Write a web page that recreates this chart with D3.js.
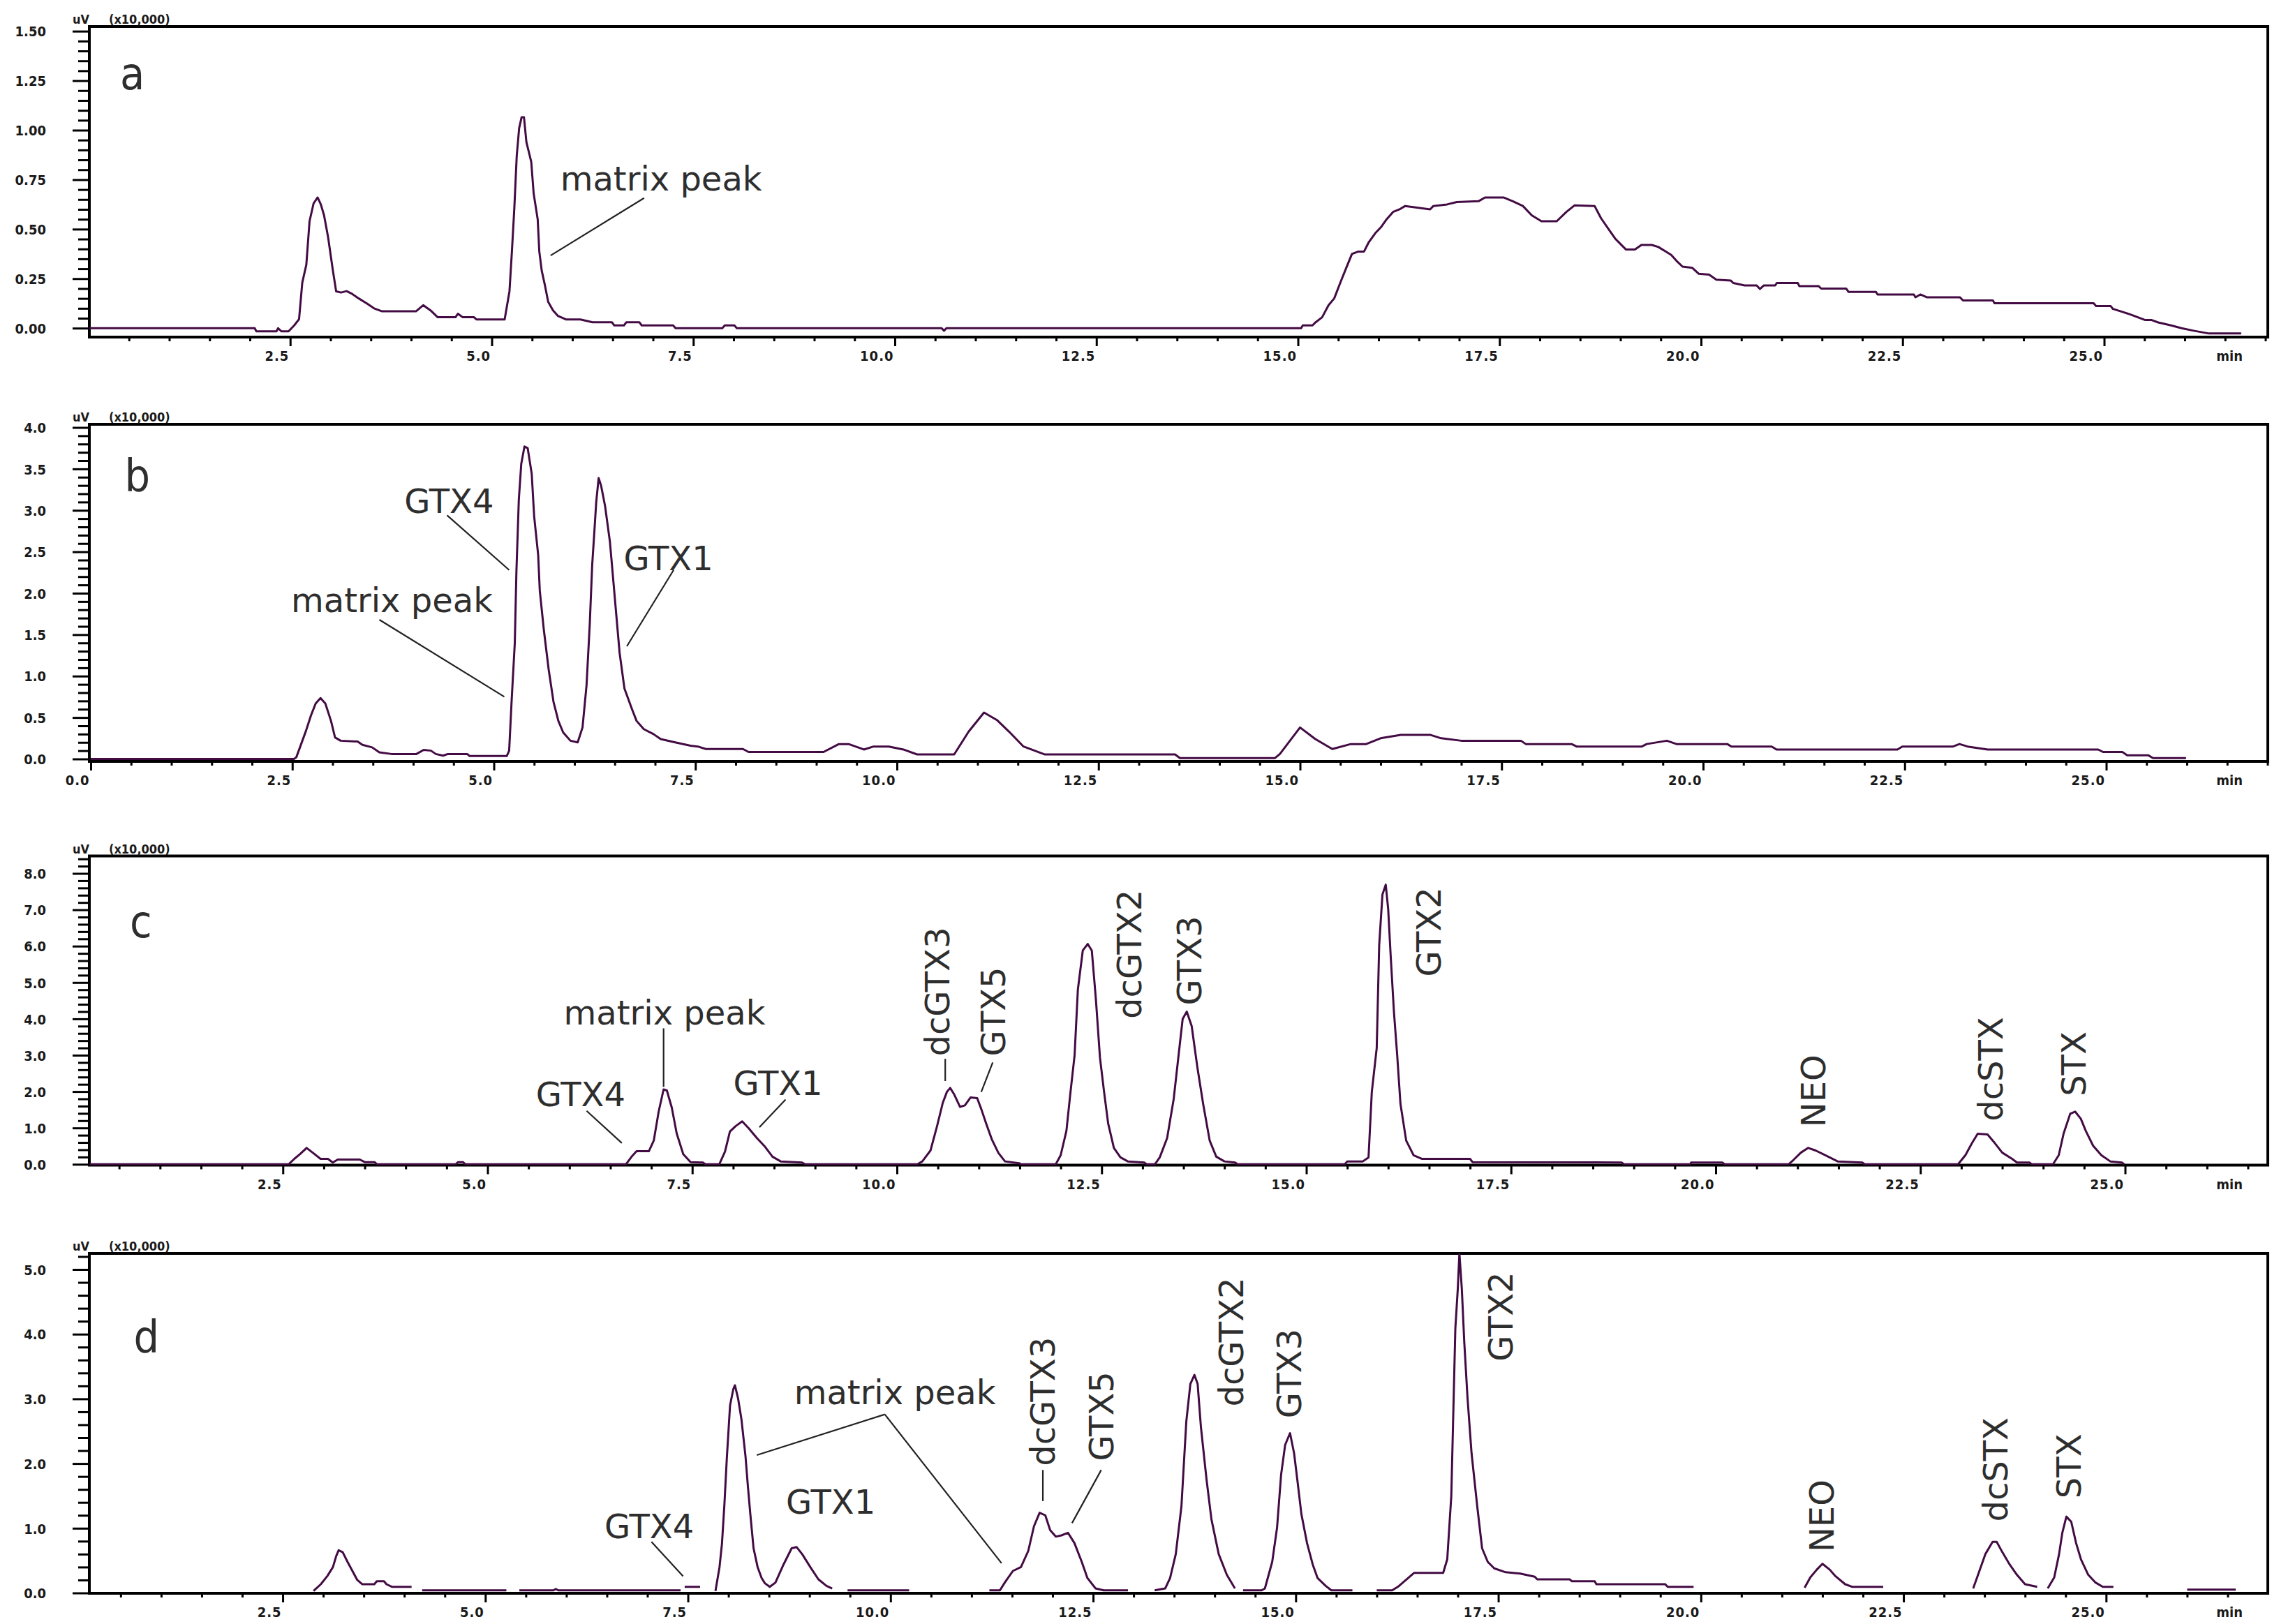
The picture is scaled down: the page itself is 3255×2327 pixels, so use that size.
<!DOCTYPE html>
<html>
<head>
<meta charset="UTF-8">
<script src="https://cdn.jsdelivr.net/npm/d3@7/dist/d3.min.js"></script>
<style>
  body { margin: 0; background: #fff; }
  .tick text, .lab { font-family: 'DejaVu Sans Condensed', 'DejaVu Sans', sans-serif; font-weight: bold; fill: #1a1a1a; }
  .note { font-family: 'DejaVu Sans', sans-serif; fill: #2e2e2e; }
  .letter { font-family: 'DejaVu Sans Condensed', 'DejaVu Sans', sans-serif; fill: #2e2e2e; }
</style>
</head>
<body>
<svg id="chart" width="3255" height="2327"></svg>
<script>
// ---- data: [time (min), signal (x10,000 uV)], null = gap in trace
var traceA = [[0.01,0],[2.06,0],[2.08,-0.016],[2.33,-0.016],[2.35,0],[2.39,-0.016],[2.48,-0.016],[2.55,0.014],[2.61,0.045],[2.65,0.23],[2.70,0.32],[2.74,0.54],[2.79,0.63],[2.84,0.66],[2.88,0.625],[2.92,0.57],[2.97,0.46],[3.03,0.29],[3.07,0.186],[3.13,0.18],[3.20,0.187],[3.26,0.175],[3.35,0.15],[3.45,0.125],[3.54,0.10],[3.64,0.085],[4.06,0.085],[4.15,0.116],[4.24,0.09],[4.33,0.055],[4.55,0.055],[4.58,0.073],[4.64,0.055],[4.78,0.055],[4.81,0.044],[5.16,0.044],[5.22,0.186],[5.25,0.387],[5.28,0.605],[5.31,0.87],[5.34,1.01],[5.37,1.065],[5.40,1.065],[5.43,0.94],[5.49,0.84],[5.52,0.68],[5.57,0.55],[5.59,0.387],[5.62,0.29],[5.66,0.216],[5.70,0.133],[5.76,0.09],[5.82,0.062],[5.92,0.044],[6.10,0.044],[6.25,0.03],[6.49,0.03],[6.52,0.014],[6.64,0.014],[6.67,0.03],[6.83,0.03],[6.86,0.014],[7.25,0.014],[7.28,0],[7.86,0],[7.89,0.014],[8.01,0.014],[8.04,0],[10.58,0],[10.61,-0.013],[10.64,0],[15.04,0],[15.06,0.014],[15.18,0.014],[15.22,0.03],[15.30,0.055],[15.38,0.116],[15.45,0.15],[15.53,0.234],[15.60,0.305],[15.67,0.375],[15.75,0.387],[15.82,0.387],[15.88,0.435],[15.96,0.48],[16.03,0.51],[16.10,0.55],[16.18,0.587],[16.26,0.60],[16.33,0.617],[16.64,0.60],[16.68,0.617],[16.85,0.625],[16.97,0.637],[17.24,0.641],[17.32,0.66],[17.55,0.66],[17.67,0.64],[17.79,0.617],[17.90,0.57],[18.02,0.54],[18.21,0.54],[18.33,0.587],[18.43,0.62],[18.68,0.617],[18.76,0.555],[18.87,0.49],[18.94,0.45],[19.02,0.417],[19.07,0.397],[19.18,0.397],[19.26,0.42],[19.39,0.42],[19.47,0.41],[19.55,0.39],[19.63,0.37],[19.71,0.334],[19.77,0.311],[19.89,0.305],[19.97,0.275],[20.10,0.27],[20.19,0.245],[20.37,0.24],[20.40,0.228],[20.54,0.216],[20.69,0.216],[20.73,0.198],[20.78,0.216],[20.92,0.216],[20.94,0.228],[21.20,0.228],[21.22,0.212],[21.46,0.212],[21.49,0.20],[21.80,0.20],[21.83,0.183],[22.17,0.183],[22.19,0.17],[22.64,0.17],[22.66,0.156],[22.72,0.17],[22.80,0.156],[23.21,0.156],[23.25,0.14],[23.62,0.14],[23.64,0.126],[24.87,0.126],[24.90,0.112],[25.08,0.112],[25.11,0.097],[25.22,0.083],[25.32,0.07],[25.43,0.053],[25.51,0.041],[25.59,0.041],[25.67,0.029],[25.83,0.014],[25.96,0],[26.11,-0.013],[26.30,-0.027],[26.70,-0.027]];

var traceB = [[0,0],[2.52,0],[2.55,0.02],[2.61,0.18],[2.67,0.34],[2.73,0.52],[2.79,0.67],[2.85,0.735],[2.91,0.67],[2.98,0.46],[3.03,0.26],[3.10,0.22],[3.31,0.21],[3.37,0.17],[3.49,0.14],[3.58,0.08],[3.73,0.06],[4.04,0.06],[4.13,0.11],[4.22,0.10],[4.28,0.06],[4.37,0.04],[4.43,0.06],[4.67,0.06],[4.70,0.035],[5.16,0.035],[5.19,0.10],[5.22,0.69],[5.26,1.40],[5.28,2.26],[5.31,3.13],[5.34,3.56],[5.38,3.77],[5.42,3.75],[5.47,3.44],[5.50,2.93],[5.55,2.46],[5.57,2.03],[5.62,1.56],[5.68,1.08],[5.74,0.69],[5.80,0.46],[5.86,0.32],[5.95,0.22],[6.04,0.20],[6.10,0.38],[6.15,0.89],[6.19,1.63],[6.22,2.34],[6.25,2.79],[6.27,3.10],[6.30,3.39],[6.33,3.30],[6.38,3.05],[6.44,2.62],[6.50,1.95],[6.56,1.28],[6.62,0.85],[6.71,0.61],[6.77,0.46],[6.86,0.36],[6.98,0.30],[7.07,0.24],[7.25,0.20],[7.44,0.16],[7.53,0.15],[7.63,0.12],[8.09,0.12],[8.16,0.084],[9.09,0.084],[9.28,0.18],[9.40,0.18],[9.59,0.114],[9.71,0.15],[9.90,0.15],[10.08,0.114],[10.25,0.055],[10.71,0.055],[10.89,0.33],[11.08,0.56],[11.24,0.47],[11.39,0.33],[11.57,0.15],[11.83,0.055],[13.45,0.055],[13.51,0.011],[14.69,0.011],[14.75,0.06],[15.00,0.38],[15.19,0.24],[15.40,0.12],[15.63,0.18],[15.82,0.18],[16.00,0.25],[16.25,0.29],[16.62,0.29],[16.75,0.25],[17.00,0.22],[17.74,0.22],[17.80,0.18],[18.37,0.18],[18.43,0.15],[19.24,0.15],[19.30,0.18],[19.55,0.22],[19.67,0.18],[20.30,0.18],[20.35,0.15],[20.85,0.15],[20.91,0.114],[22.41,0.114],[22.47,0.15],[23.10,0.15],[23.18,0.18],[23.28,0.15],[23.53,0.114],[24.90,0.114],[24.96,0.084],[25.20,0.084],[25.26,0.045],[25.52,0.045],[25.58,0.011],[25.99,0.011]];

var traceC = [[0.14,0],[2.57,0],[2.64,0.15],[2.71,0.28],[2.79,0.45],[2.87,0.31],[2.96,0.15],[3.05,0.15],[3.11,0.05],[3.17,0.13],[3.44,0.13],[3.50,0.06],[3.62,0.06],[3.65,0],[4.61,0],[4.64,0.06],[4.70,0.06],[4.73,0],[6.69,0],[6.76,0.21],[6.82,0.36],[6.97,0.36],[7.03,0.65],[7.09,1.45],[7.15,2.06],[7.19,2.03],[7.25,1.56],[7.31,0.85],[7.39,0.28],[7.48,0.06],[7.63,0.05],[7.66,0],[7.83,0],[7.90,0.35],[7.96,0.90],[8.03,1.05],[8.11,1.18],[8.19,0.99],[8.29,0.72],[8.39,0.48],[8.48,0.21],[8.58,0.08],[8.84,0.05],[8.88,0],[10.25,0],[10.31,0.08],[10.41,0.38],[10.49,1.05],[10.56,1.69],[10.61,1.99],[10.65,2.10],[10.70,1.92],[10.77,1.58],[10.83,1.62],[10.90,1.84],[10.98,1.82],[11.03,1.52],[11.09,1.12],[11.16,0.68],[11.24,0.31],[11.32,0.08],[11.49,0.03],[11.52,0],[11.94,0],[12.00,0.25],[12.07,0.92],[12.12,1.99],[12.17,3.00],[12.21,4.81],[12.27,5.88],[12.33,6.06],[12.38,5.88],[12.43,4.54],[12.48,2.93],[12.53,1.99],[12.58,1.12],[12.65,0.45],[12.73,0.19],[12.82,0.08],[13.02,0.05],[13.05,0],[13.15,0],[13.21,0.19],[13.30,0.72],[13.38,1.79],[13.44,3.00],[13.49,4.00],[13.54,4.20],[13.60,3.80],[13.67,2.66],[13.74,1.66],[13.82,0.65],[13.90,0.21],[14.00,0.08],[14.13,0.05],[14.16,0],[15.47,0],[15.50,0.08],[15.69,0.08],[15.76,0.19],[15.80,1.99],[15.86,3.20],[15.89,6.02],[15.93,7.42],[15.97,7.69],[16.00,7.02],[16.03,5.75],[16.07,4.20],[16.11,3.00],[16.15,1.66],[16.22,0.65],[16.31,0.25],[16.41,0.15],[17.00,0.15],[17.03,0.06],[18.85,0.05],[18.88,0],[19.69,0],[19.70,0.05],[20.08,0.05],[20.11,0],[20.89,0],[20.95,0.12],[21.04,0.32],[21.13,0.45],[21.22,0.38],[21.34,0.25],[21.49,0.08],[21.79,0.05],[21.82,0],[22.96,0],[23.05,0.25],[23.13,0.58],[23.20,0.84],[23.32,0.82],[23.41,0.58],[23.50,0.32],[23.62,0.15],[23.68,0.05],[23.83,0.05],[23.86,0],[24.12,0],[24.19,0.25],[24.25,0.85],[24.33,1.39],[24.39,1.45],[24.46,1.25],[24.52,0.92],[24.61,0.51],[24.71,0.25],[24.82,0.08],[24.96,0.05],[24.99,0]];

var traceD = [[2.88,0.03],[2.97,0.135],[3.05,0.26],[3.12,0.40],[3.16,0.57],[3.19,0.66],[3.24,0.63],[3.30,0.48],[3.36,0.34],[3.42,0.20],[3.48,0.135],[3.63,0.135],[3.66,0.18],[3.75,0.18],[3.78,0.135],[3.85,0.094],[4.09,0.094],null,[4.22,0.04],[5.26,0.04],null,[5.42,0.04],[5.84,0.04],[5.87,0.06],[5.90,0.04],[7.41,0.04],null,[7.46,0.094],[7.65,0.094],null,[7.84,0.03],[7.89,0.40],[7.92,0.76],[7.95,1.36],[7.98,2.08],[8.02,2.90],[8.06,3.15],[8.08,3.21],[8.12,3.00],[8.16,2.69],[8.21,2.12],[8.24,1.65],[8.27,1.22],[8.31,0.69],[8.36,0.40],[8.41,0.23],[8.45,0.15],[8.51,0.094],[8.58,0.16],[8.68,0.44],[8.78,0.69],[8.84,0.71],[8.91,0.60],[9.01,0.40],[9.11,0.21],[9.21,0.11],[9.28,0.07],null,[9.47,0.04],[10.23,0.04],null,[11.22,0.04],[11.35,0.04],[11.41,0.16],[11.51,0.34],[11.61,0.40],[11.70,0.65],[11.77,1.03],[11.84,1.24],[11.91,1.20],[11.97,0.97],[12.04,0.87],[12.11,0.89],[12.19,0.93],[12.27,0.77],[12.36,0.48],[12.43,0.23],[12.53,0.07],[12.63,0.04],[12.93,0.04],null,[13.26,0.04],[13.39,0.07],[13.45,0.23],[13.52,0.60],[13.59,1.34],[13.65,2.65],[13.70,3.23],[13.75,3.37],[13.79,3.23],[13.83,2.57],[13.90,1.75],[13.96,1.14],[14.05,0.60],[14.15,0.28],[14.25,0.07],null,[14.35,0.04],[14.58,0.04],[14.62,0.07],[14.71,0.48],[14.77,1.01],[14.82,1.83],[14.87,2.29],[14.93,2.47],[14.98,2.16],[15.02,1.75],[15.07,1.22],[15.14,0.77],[15.21,0.44],[15.27,0.23],[15.37,0.11],[15.44,0.04],[15.70,0.04],null,[16.00,0.04],[16.19,0.04],[16.26,0.094],[16.46,0.31],[16.82,0.31],[16.87,0.52],[16.92,1.50],[16.97,4.09],[17.00,4.70],[17.02,5.25],[17.05,4.70],[17.08,3.88],[17.12,3.02],[17.17,2.16],[17.24,1.34],[17.30,0.69],[17.37,0.48],[17.45,0.38],[17.59,0.32],[17.77,0.30],[17.95,0.25],[17.98,0.21],[18.38,0.21],[18.41,0.18],[18.69,0.18],[18.71,0.135],[19.56,0.135],[19.59,0.094],[19.91,0.094],null,[21.28,0.08],[21.35,0.24],[21.43,0.36],[21.50,0.45],[21.59,0.36],[21.66,0.26],[21.78,0.135],[21.87,0.094],[22.25,0.094],null,[23.36,0.07],[23.42,0.28],[23.51,0.60],[23.60,0.79],[23.65,0.79],[23.72,0.63],[23.81,0.44],[23.90,0.28],[24.00,0.135],[24.15,0.094],null,[24.28,0.07],[24.36,0.24],[24.42,0.60],[24.46,0.93],[24.51,1.18],[24.57,1.10],[24.63,0.77],[24.69,0.52],[24.78,0.28],[24.87,0.16],[24.96,0.094],[25.09,0.094],null,[26.00,0.05],[26.60,0.05]];

// ---- axis ticks and labels
var xMajor = [0, 2.5, 5, 7.5, 10, 12.5, 15, 17.5, 20, 22.5, 25];
var xLabels = ["0.0", "2.5", "5.0", "7.5", "10.0", "12.5", "15.0", "17.5", "20.0", "22.5", "25.0"];
var yMajorA = [0, 0.25, 0.5, 0.75, 1.0, 1.25, 1.5];
var yLabelsA = ["0.00", "0.25", "0.50", "0.75", "1.00", "1.25", "1.50"];
var yMajorB = [0, 0.5, 1.0, 1.5, 2.0, 2.5, 3.0, 3.5, 4.0];
var yLabelsB = ["0.0", "0.5", "1.0", "1.5", "2.0", "2.5", "3.0", "3.5", "4.0"];
var yMajorC = [0, 1, 2, 3, 4, 5, 6, 7, 8];
var yLabelsC = ["0.0", "1.0", "2.0", "3.0", "4.0", "5.0", "6.0", "7.0", "8.0"];
var yMajorD = [0, 1, 2, 3, 4, 5];
var yLabelsD = ["0.0", "1.0", "2.0", "3.0", "4.0", "5.0"];
var unitText = ["uV", "(x10,000)"];
var timeUnit = "min";

// ---- peak labels: anchor in data units (time, signal); up = written vertically
var notesA = [{text: "matrix peak", t: 5.85, v: 0.695}];
var leadersA = [[[6.89, 0.657], [5.73, 0.367]]];
var notesB = [{text: "GTX4", t: 3.89, v: 2.97}, {text: "matrix peak", t: 2.485, v: 1.77}, {text: "GTX1", t: 6.61, v: 2.28}];
var leadersB = [[[4.42, 2.94], [5.19, 2.28]], [[3.58, 1.68], [5.13, 0.75]], [[7.23, 2.28], [6.65, 1.36]]];
var notesC = [{text: "matrix peak", t: 5.93, v: 3.84}, {text: "GTX4", t: 5.59, v: 1.59}, {text: "GTX1", t: 8.0, v: 1.91},
    {text: "dcGTX3", t: 10.64, v: 2.97, up: true}, {text: "GTX5", t: 11.32, v: 2.97, up: true},
    {text: "dcGTX2", t: 12.98, v: 4.0, up: true}, {text: "GTX3", t: 13.72, v: 4.37, up: true},
    {text: "GTX2", t: 16.64, v: 5.16, up: true}, {text: "NEO", t: 21.34, v: 1.02, up: true},
    {text: "dcSTX", t: 23.5, v: 1.18, up: true}, {text: "STX", t: 24.52, v: 1.87, up: true}];
var leadersC = [[[7.15, 3.74], [7.15, 2.13]], [[6.21, 1.47], [6.64, 0.585]], [[8.64, 1.78], [8.32, 1.02]],
    [[10.59, 2.9], [10.59, 2.29]], [[11.17, 2.8], [11.03, 1.99]]];
var notesD = [{text: "GTX4", t: 6.47, v: 0.85}, {text: "matrix peak", t: 8.81, v: 2.92}, {text: "GTX1", t: 8.71, v: 1.22},
    {text: "dcGTX3", t: 12.03, v: 1.96, up: true}, {text: "GTX5", t: 12.75, v: 2.04, up: true},
    {text: "dcGTX2", t: 14.35, v: 2.88, up: true}, {text: "GTX3", t: 15.07, v: 2.7, up: true},
    {text: "GTX2", t: 17.68, v: 3.58, up: true}, {text: "NEO", t: 21.64, v: 0.63, up: true},
    {text: "dcSTX", t: 23.78, v: 1.1, up: true}, {text: "STX", t: 24.69, v: 1.46, up: true}];
var leadersD = [[[7.05, 0.79], [7.44, 0.26]], [[9.93, 2.76], [8.35, 2.13]], [[9.93, 2.76], [11.37, 0.46]],
    [[11.88, 1.9], [11.88, 1.42]], [[12.6, 1.9], [12.24, 1.08]]];
var panelLetters = ["a", "b", "c", "d"];
var letterSpots = [[0.39, 1.207], [0.42, 3.23], [0.63, 6.25], [0.66, 3.72]];

// ---- layout (pixels)
var left = 128, right = 3249;
var panels = [
    {trace: traceA, yMajor: yMajorA, yLabels: yLabelsA, yMinor: 0.05, notes: notesA, leaders: leadersA,
     top: 38, bottom: 483, x0: 127, xk: 115.5, y0: 470.2, yk: 283.7},
    {trace: traceB, yMajor: yMajorB, yLabels: yLabelsB, yMinor: 0.1, notes: notesB, leaders: leadersB,
     top: 608, bottom: 1091, x0: 130, xk: 115.5, y0: 1087.5, yk: 118.75},
    {trace: traceC, yMajor: yMajorC, yLabels: yLabelsC, yMinor: 0.2, notes: notesC, leaders: leadersC,
     top: 1226.5, bottom: 1669.5, x0: 112, xk: 117.3, y0: 1668.3, yk: 52.1},
    {trace: traceD, yMajor: yMajorD, yLabels: yLabelsD, yMinor: 0.2, notes: notesD, leaders: leadersD,
     top: 1796, bottom: 2283, x0: 114.8, xk: 116.1, y0: 2282.5, yk: 92.7}
];

var svg = d3.select("#chart");
svg.append("rect").attr("width", 3255).attr("height", 2327).attr("fill", "#fff");

function isMajor(v, step) {
    var r = v / step;
    return Math.abs(r - Math.round(r)) < 1e-6;
}

panels.forEach(function (p, i) {
    var xDom = [(left - p.x0) / p.xk, (right - p.x0) / p.xk];
    var yDom = [(p.y0 - p.bottom) / p.yk, (p.y0 - p.top) / p.yk];
    var x = d3.scaleLinear().domain(xDom).range([left, right]);
    var y = d3.scaleLinear().domain(yDom).range([p.bottom, p.top]);
    var g = svg.append("g");

    // clip the trace to the frame
    var clipId = "clip" + i;
    svg.append("clipPath").attr("id", clipId).append("rect")
        .attr("x", left).attr("y", p.top).attr("width", right - left).attr("height", p.bottom - p.top);

    // x ticks
    var xMaj = xMajor.filter(function (t) { return t >= xDom[0] && t <= xDom[1]; });
    var xMin = d3.range(0, 27.01, 0.5).filter(function (t) { return t >= xDom[0] && t <= xDom[1] && !isMajor(t, 2.5); });
    var xAxisMinor = d3.axisBottom(x).tickValues(xMin).tickSize(6).tickFormat("");
    var xAxis = d3.axisBottom(x).tickValues(xMaj).tickSize(13)
        .tickFormat(function (t) { return xLabels[xMajor.indexOf(t)]; });
    g.append("g").attr("transform", "translate(0," + p.bottom + ")").call(xAxisMinor);
    var xg = g.append("g").attr("transform", "translate(0," + p.bottom + ")").call(xAxis);
    xg.selectAll("text").attr("text-anchor", "end").attr("x", -2).attr("y", 34).attr("dy", 0)
        .style("font-size", "20px").style("letter-spacing", "1px");

    // y ticks
    var yMin = d3.range(0, yDom[1] + 1e-9, p.yMinor).filter(function (v) { return !isMajor(v, p.yMajor[1]); });
    var yAxisMinor = d3.axisLeft(y).tickValues(yMin).tickSize(16).tickFormat("");
    var yAxis = d3.axisLeft(y).tickValues(p.yMajor).tickSize(24)
        .tickFormat(function (v) { return p.yLabels[p.yMajor.indexOf(v)]; });
    g.append("g").attr("transform", "translate(" + left + ",0)").call(yAxisMinor);
    var yg = g.append("g").attr("transform", "translate(" + left + ",0)").call(yAxis);
    yg.selectAll("text").attr("x", -62).attr("dy", "0.36em").style("font-size", "20px");

    g.selectAll(".domain").remove();
    g.selectAll(".tick line").attr("stroke", "#000").attr("stroke-width", 3);

    // frame
    g.append("rect").attr("x", left).attr("y", p.top).attr("width", right - left).attr("height", p.bottom - p.top)
        .attr("fill", "none").attr("stroke", "#000").attr("stroke-width", 4);

    // unit header and time unit
    g.append("text").attr("class", "lab").attr("x", 104).attr("y", p.top - 4).style("font-size", "18px").text(unitText[0]);
    g.append("text").attr("class", "lab").attr("x", 156).attr("y", p.top - 4).style("font-size", "18px").text(unitText[1]);
    g.append("text").attr("class", "lab").attr("x", 3213).attr("y", p.bottom + 34).attr("text-anchor", "end")
        .style("font-size", "20px").text(timeUnit);

    // chromatogram
    var line = d3.line()
        .defined(function (d) { return d !== null; })
        .x(function (d) { return x(d[0]); })
        .y(function (d) { return y(d[1]); });
    g.append("path").datum(p.trace)
        .attr("clip-path", "url(#" + clipId + ")")
        .attr("d", line)
        .attr("fill", "none")
        .attr("stroke", "#430b43")
        .attr("stroke-width", 3)
        .attr("stroke-linejoin", "round");

    // leader lines
    g.selectAll(".leader").data(p.leaders).enter().append("line")
        .attr("x1", function (d) { return x(d[0][0]); })
        .attr("y1", function (d) { return y(d[0][1]); })
        .attr("x2", function (d) { return x(d[1][0]); })
        .attr("y2", function (d) { return y(d[1][1]); })
        .attr("stroke", "#222").attr("stroke-width", 2.2);

    // peak labels
    g.selectAll(".note").data(p.notes).enter().append("text")
        .attr("class", "note")
        .attr("transform", function (d) {
            return "translate(" + x(d.t) + "," + y(d.v) + ")" + (d.up ? " rotate(-90)" : "");
        })
        .style("font-size", "48px")
        .text(function (d) { return d.text; });

    // panel letter
    g.append("text").attr("class", "letter")
        .attr("x", x(letterSpots[i][0])).attr("y", y(letterSpots[i][1]))
        .style("font-size", "64px")
        .text(panelLetters[i]);
});
</script>
</body>
</html>
